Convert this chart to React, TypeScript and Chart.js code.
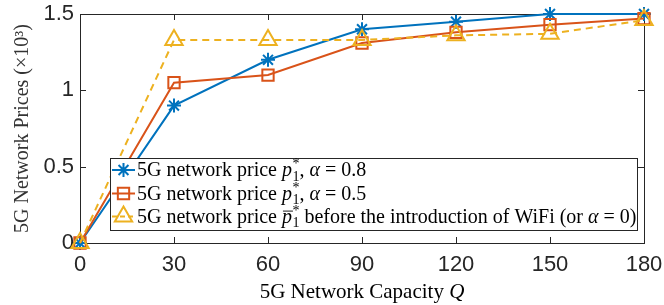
import React, { useEffect, useRef } from "react";
import { Chart, registerables } from "chart.js";
Chart.register(...registerables);

const capacities = [0, 30, 60, 90, 120, 150, 180];
const price08 = [0, 0.9, 1.2, 1.4, 1.45, 1.5, 1.5];
const price05 = [0, 1.05, 1.1, 1.31, 1.38, 1.43, 1.47];
const priceNoWifi = [0, 1.33, 1.33, 1.33, 1.36, 1.37, 1.46];
const xTicks = [0, 30, 60, 90, 120, 150, 180];
const yTicks = [0, 0.5, 1, 1.5];
const alphaLabels = ["0.8", "0.5"];

const BLUE = "#0072BD";
const RED = "#D95319";
const YELLOW = "#EDB120";
const AXIS = "#262626";
const SERIF = "'Liberation Serif', serif";

type Seg = { t: string; it?: boolean; kind?: "pstar" | "pbarstar" };

function drawRich(ctx: CanvasRenderingContext2D, x: number, y: number, segs: Seg[], size: number) {
  ctx.save();
  ctx.textBaseline = "middle";
  ctx.textAlign = "left";
  ctx.fillStyle = "#000";
  let cx = x;
  for (const s of segs) {
    if (s.kind) {
      ctx.font = `italic ${size}px ${SERIF}`;
      ctx.fillText("p", cx, y);
      const pw = ctx.measureText("p").width;
      if (s.kind === "pbarstar") {
        ctx.strokeStyle = "#000";
        ctx.lineWidth = 0.9;
        ctx.beginPath();
        ctx.moveTo(cx + 1, y - size * 0.32);
        ctx.lineTo(cx + pw + 1, y - size * 0.32);
        ctx.stroke();
      }
      cx += pw + 0.5;
      const small = Math.round(size * 0.7);
      ctx.font = `${small}px ${SERIF}`;
      ctx.fillText("*", cx, y - size * 0.33);
      ctx.fillText("1", cx, y + size * 0.3);
      cx += ctx.measureText("1").width;
      continue;
    }
    ctx.font = `${s.it ? "italic " : ""}${size}px ${SERIF}`;
    ctx.fillText(s.t, cx, y);
    cx += ctx.measureText(s.t).width;
  }
  ctx.restore();
  return cx - x;
}

const legendRows: { color: string; style: string; dash: number[]; segs: Seg[] }[] = [
  {
    color: BLUE, style: "star", dash: [],
    segs: [{ t: "5G network price " }, { t: "", kind: "pstar" }, { t: ", " }, { t: "α", it: true }, { t: " = " + alphaLabels[0] }],
  },
  {
    color: RED, style: "rect", dash: [],
    segs: [{ t: "5G network price " }, { t: "", kind: "pstar" }, { t: ", " }, { t: "α", it: true }, { t: " = " + alphaLabels[1] }],
  },
  {
    color: YELLOW, style: "triangle", dash: [5, 3],
    segs: [{ t: "5G network price " }, { t: "", kind: "pbarstar" }, { t: " before the introduction of WiFi (or " }, { t: "α", it: true }, { t: " = 0)" }],
  },
];

function drawPoint(ctx: CanvasRenderingContext2D, style: string, radius: number, x: number, y: number, color: string) {
  ctx.save();
  ctx.strokeStyle = color;
  ctx.lineWidth = 2;
  ctx.beginPath();
  if (style === "star") {
    for (let k = 0; k < 4; k++) {
      const ang = (k * Math.PI) / 4;
      ctx.moveTo(x - Math.cos(ang) * radius, y - Math.sin(ang) * radius);
      ctx.lineTo(x + Math.cos(ang) * radius, y + Math.sin(ang) * radius);
    }
  } else if (style === "rect") {
    const s = Math.SQRT1_2 * radius;
    ctx.rect(x - s, y - s, 2 * s, 2 * s);
  } else {
    const r = radius;
    ctx.moveTo(x, y - r);
    ctx.lineTo(x + r * Math.sin((Math.PI * 2) / 3), y + r * 0.5);
    ctx.lineTo(x - r * Math.sin((Math.PI * 2) / 3), y + r * 0.5);
    ctx.closePath();
  }
  ctx.stroke();
  ctx.restore();
}

const boxPlugin = {
  id: "matlabBox",
  beforeDatasetsDraw(chart: any) {
    const { ctx, chartArea: a, scales } = chart;
    ctx.save();
    ctx.strokeStyle = AXIS;
    ctx.lineWidth = 1;
    ctx.strokeRect(Math.round(a.left) + 0.5, Math.round(a.top) + 0.5, Math.round(a.right - a.left), Math.round(a.bottom - a.top));
    ctx.beginPath();
    const L = 6;
    for (const v of xTicks) {
      const px = Math.round(scales.x.getPixelForValue(v)) + 0.5;
      ctx.moveTo(px, a.bottom); ctx.lineTo(px, a.bottom - L);
      ctx.moveTo(px, a.top); ctx.lineTo(px, a.top + L);
    }
    for (const v of yTicks) {
      const py = Math.round(scales.y.getPixelForValue(v)) + 0.5;
      ctx.moveTo(a.left, py); ctx.lineTo(a.left + L, py);
      ctx.moveTo(a.right, py); ctx.lineTo(a.right - L, py);
    }
    ctx.stroke();
    ctx.restore();
  },
  afterDraw(chart: any) {
    const { ctx, chartArea: a } = chart;
    ctx.save();
    // x axis title
    const tsize = 21;
    const t1 = "5G Network Capacity ";
    ctx.font = `${tsize}px ${SERIF}`;
    const w1 = ctx.measureText(t1).width;
    ctx.font = `italic ${tsize}px ${SERIF}`;
    const w2 = ctx.measureText("Q").width;
    const cx = (a.left + a.right) / 2;
    drawRich(ctx, cx - (w1 + w2) / 2, 292, [{ t: t1 }, { t: "Q", it: true }], tsize);
    // legend
    const lx = 110, ly = 158, lw = 527, lh = 72;
    ctx.fillStyle = "#fff";
    ctx.fillRect(lx, ly, lw, lh);
    ctx.strokeStyle = AXIS;
    ctx.lineWidth = 1;
    ctx.strokeRect(lx + 0.5, ly + 0.5, lw, lh);
    const rowsY = [170, 193.5, 216.5];
    legendRows.forEach((r, i) => {
      const y = rowsY[i];
      ctx.save();
      ctx.strokeStyle = r.color;
      ctx.lineWidth = 2;
      ctx.setLineDash(r.dash);
      ctx.beginPath();
      ctx.moveTo(112, y);
      ctx.lineTo(135, y);
      ctx.stroke();
      ctx.setLineDash([]);
      const rad = r.style === "star" ? 7 : r.style === "rect" ? 8 : 10;
      drawPoint(ctx, r.style, rad, 123.5, y, r.color);
      ctx.restore();
      drawRich(ctx, 137, y + 1, r.segs, 20);
    });
    ctx.restore();
  },
};

export default function App() {
  const ref = useRef<HTMLCanvasElement>(null);
  useEffect(() => {
    if (!ref.current) return;
    const mk = (vals: number[]) => capacities.map((c, i) => ({ x: c, y: vals[i] }));
    const chart = new Chart(ref.current, {
      type: "line",
      data: {
        datasets: [
          {
            label: "alpha 0.8", data: mk(price08), borderColor: BLUE, backgroundColor: "rgba(0,0,0,0)",
            borderWidth: 2, pointStyle: "star", pointRadius: 7, pointBorderWidth: 2, pointBorderColor: BLUE,
            clip: false as any, order: 3,
          },
          {
            label: "alpha 0.5", data: mk(price05), borderColor: RED, backgroundColor: "rgba(0,0,0,0)",
            borderWidth: 2, pointStyle: "rect", pointRadius: 8, pointBorderWidth: 2, pointBorderColor: RED,
            clip: false as any, order: 2,
          },
          {
            label: "before WiFi", data: mk(priceNoWifi), borderColor: YELLOW, backgroundColor: "rgba(0,0,0,0)",
            borderWidth: 2, borderDash: [7, 5], pointStyle: "triangle", pointRadius: 10, pointBorderWidth: 2,
            pointBorderColor: YELLOW, clip: false as any, order: 1,
          },
        ],
      },
      options: {
        animation: false,
        responsive: false,
        layout: { padding: { top: 14, right: 20, left: 0, bottom: 0 } },
        plugins: { legend: { display: false }, tooltip: { enabled: false } },
        elements: { line: { tension: 0 } },
        scales: {
          x: {
            type: "linear", min: 0, max: 180,
            afterBuildTicks: (s: any) => { s.ticks = xTicks.map((v) => ({ value: v })); },
            afterFit: (s: any) => { s.height = 62; s.paddingLeft = 0; s.paddingRight = 0; },
            grid: { display: false, drawTicks: false },
            border: { display: false },
            ticks: { color: AXIS, font: { family: "'Liberation Sans', Arial, sans-serif", size: 22 }, padding: 9, maxRotation: 0, autoSkip: false },
          },
          y: {
            type: "linear", min: 0, max: 1.5,
            afterBuildTicks: (s: any) => { s.ticks = yTicks.map((v) => ({ value: v })); },
            afterFit: (s: any) => { s.width = 80; s.paddingTop = 0; s.paddingBottom = 0; },
            grid: { display: false, drawTicks: false },
            border: { display: false },
            ticks: { color: AXIS, font: { family: "'Liberation Sans', Arial, sans-serif", size: 22 }, padding: 6, callback: (v: any) => String(v) },
            title: { display: true, text: "5G Network Prices (×10³)", color: "#333", font: { family: SERIF, size: 20 }, padding: { top: 11, bottom: 0 } },
          },
        },
      },
      plugins: [boxPlugin],
    });
    return () => chart.destroy();
  }, []);
  return (
    <div style={{ position: "fixed", left: 0, top: 0, width: 664, height: 305, background: "#fff" }}>
      <canvas ref={ref} width={664} height={305} style={{ display: "block" }} />
    </div>
  );
}
